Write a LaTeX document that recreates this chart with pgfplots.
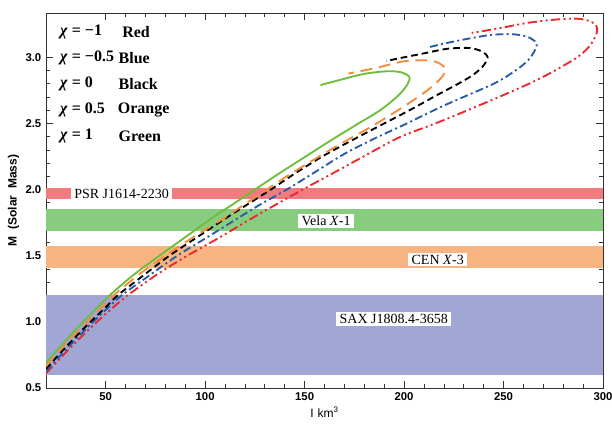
\documentclass[border=0pt]{standalone}
\usepackage{fontspec}
\setmainfont{Liberation Serif}
\setsansfont{Liberation Sans}
\usepackage{pgfplots}
\pgfplotsset{compat=1.18}

\definecolor{bandred}{RGB}{240,124,128}
\definecolor{bandgreen}{RGB}{136,204,128}
\definecolor{bandorange}{RGB}{248,180,128}
\definecolor{bandblue}{RGB}{162,166,212}
\definecolor{cred}{RGB}{236,40,45}
\definecolor{cblue}{RGB}{40,90,170}
\definecolor{corange}{RGB}{245,140,60}
\definecolor{cgreen}{RGB}{110,190,60}

\begin{document}
\begin{tikzpicture}
\begin{axis}[
  name=ax,
  scale only axis, width=417.75pt, height=281.25pt,
  xmin=20, xmax=300, ymin=0.5, ymax=3.335,
  xtick={50,100,...,300}, ytick={0.5,1.0,...,3.0},
  minor x tick num=4, minor y tick num=4,
  tick align=inside, xtick pos=both, ytick pos=both,
  xticklabel pos=bottom, yticklabel pos=left,
  major tick length=5pt, minor tick length=3pt,
  axis line style={black!80, line width=0.6pt},
  every tick/.style={black!80, line width=0.5pt},
  ticklabel style={font=\sffamily\bfseries\fontsize{8.5}{10}\selectfont},
  /pgf/number format/assume math mode=true,
  yticklabel style={/pgf/number format/.cd, fixed, fixed zerofill, precision=1},
  xlabel={I\,\,km\textsuperscript{3}},
  xlabel style={font=\sffamily\fontsize{9}{10}\selectfont, yshift=2pt},
  ylabel={M\ \ (Solar\ \ Mass)},
  ylabel style={font=\sffamily\bfseries\fontsize{9}{10}\selectfont, yshift=-2pt},
  clip=true,
]
% observed mass ranges
\addplot[fill=bandblue, draw=none] coordinates {(20,0.6) (300,0.6) (300,1.2) (20,1.2)} -- cycle;
\addplot[fill=bandorange, draw=none] coordinates {(20,1.41) (300,1.41) (300,1.57) (20,1.57)} -- cycle;
\addplot[fill=bandgreen, draw=none] coordinates {(20,1.69) (300,1.69) (300,1.85) (20,1.85)} -- cycle;
\addplot[fill=bandred, draw=none] coordinates {(20,1.93) (300,1.93) (300,2.01) (20,2.01)} -- cycle;

% chi = -1
\addplot[cred, line width=1.4pt, smooth, tension=0.5,
  dash pattern=on 7pt off 2.5pt on 1.5pt off 2.5pt on 1.5pt off 2.5pt] coordinates {
  (20,0.61) (30,0.77) (40,0.92) (50,1.06) (61,1.2) (76,1.36) (91,1.5) (107.5,1.64)
  (122,1.77) (136,1.89) (149,2.0) (165,2.13) (182,2.27) (198,2.398) (214,2.49)
  (228,2.575) (251.7,2.726) (267,2.83) (279,2.927) (288,3.01) (293.5,3.09)
  (296.5,3.17) (297,3.225) (294,3.27) (287,3.292) (276,3.285) (262,3.26)
  (248,3.22) (234,3.184)};
% chi = -0.5
\addplot[cblue, line width=1.4pt, smooth, tension=0.5,
  dash pattern=on 6pt off 2.5pt on 1.5pt off 2.5pt] coordinates {
  (20,0.625) (30,0.79) (40,0.945) (50,1.09) (58,1.2) (70,1.33) (86,1.5) (100,1.63)
  (115,1.77) (128,1.89) (141,2.0) (155,2.13) (170,2.27) (185,2.385) (200,2.49)
  (220,2.635) (245,2.80) (256,2.9) (262.5,2.98) (266,3.06) (266.5,3.11)
  (262,3.155) (255,3.174) (244,3.17) (232,3.14) (222,3.11) (211.5,3.073)};
% chi = 0
\addplot[black, line width=1.4pt, smooth, tension=0.5,
  dash pattern=on 5pt off 3pt] coordinates {
  (20,0.645) (30,0.81) (40,0.965) (50,1.11) (56,1.2) (68,1.34) (82,1.5) (96,1.64)
  (110,1.78) (122,1.895) (133,2.0) (146,2.13) (160,2.26) (176,2.39) (190,2.5)
  (204,2.61) (216,2.71) (226,2.79) (234,2.86) (239.5,2.93) (242,3.0) (239,3.045)
  (233,3.07) (222,3.065) (210,3.03) (200,3.0) (191,2.972)};
% chi = 0.5
\addplot[corange, line width=1.4pt, smooth, tension=0.5,
  dash pattern=on 9pt off 5pt] coordinates {
  (20,0.665) (30,0.835) (40,0.99) (50,1.14) (54,1.2) (66,1.35) (80,1.5) (94,1.64)
  (108,1.77) (120,1.89) (130,1.99) (141,2.1) (154,2.22) (168,2.345) (184,2.48)
  (198,2.61) (208,2.71) (215,2.79) (219.5,2.86) (220.7,2.915) (217,2.96)
  (211.5,2.977) (200,2.97) (186,2.92) (172,2.877)};
% chi = 1
\addplot[cgreen, line width=1.4pt, smooth, tension=0.5] coordinates {
  (20,0.69) (30,0.86) (40,1.02) (52,1.2) (64,1.355) (77,1.5) (90,1.64) (103,1.78)
  (114,1.89) (125,2.0) (138,2.13) (150,2.245) (163,2.37) (176,2.49) (188,2.60)
  (197,2.71) (201.5,2.79) (202.7,2.85) (199,2.885) (192,2.895) (180,2.875)
  (168,2.83) (158,2.79)};

% source labels
\begin{scope}[every node/.style={fill=white, inner xsep=2.5pt, inner ysep=1.5pt,
    font=\fontsize{10.5}{12}\selectfont}]
\node at (axis cs:58,1.97) {PSR J1614-2230};
\node at (axis cs:160.8,1.765) {Vela \textit{X}-1};
\node at (axis cs:216.9,1.47) {CEN \textit{X}-3};
\node at (axis cs:194.8,1.022) {SAX J1808.4-3658};
\end{scope}

% colour key
\begin{scope}[every node/.style={anchor=west, inner sep=0pt,
    font=\bfseries\fontsize{12}{14}\selectfont}]
\node at (axis cs:27,3.191) {\textit{χ} = −1};
\node at (axis cs:58.2,3.191) {Red};
\node at (axis cs:27,2.998) {\textit{χ} = −0.5};
\node at (axis cs:56.4,2.998) {Blue};
\node at (axis cs:27,2.80) {\textit{χ} = 0};
\node at (axis cs:56.4,2.80) {Black};
\node at (axis cs:27,2.60) {\textit{χ} = 0.5};
\node at (axis cs:56,2.60) {Orange};
\node at (axis cs:27,2.403) {\textit{χ} = 1};
\node at (axis cs:56.4,2.403) {Green};
\end{scope}
\end{axis}
\pgfresetboundingbox
\path[use as bounding box] ([xshift=-34.5pt,yshift=-36pt]ax.south west)
  rectangle ([xshift=6.75pt,yshift=9.75pt]ax.north east);
\end{tikzpicture}
\end{document}
